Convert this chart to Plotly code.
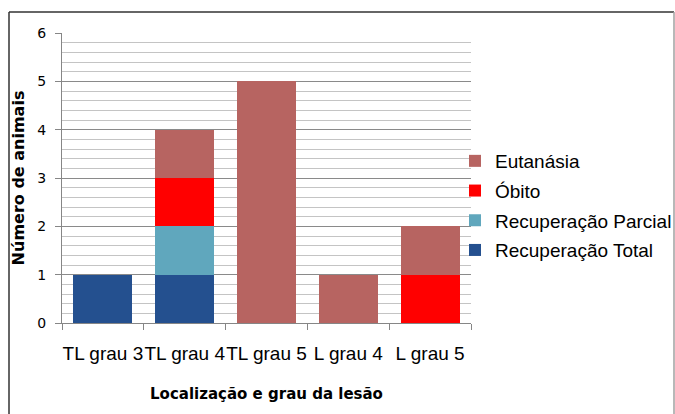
import plotly.graph_objects as go

# Outcome counts per lesion location and grade
categorias = ["TL grau 3", "TL grau 4", "TL grau 5", "L grau 4", "L grau 5"]
recuperacao_total = [1, 1, 0, 0, 0]
recuperacao_parcial = [0, 1, 0, 0, 0]
obito = [0, 1, 0, 0, 1]
eutanasia = [0, 1, 5, 1, 1]

series = [
    ("Recuperação Total", recuperacao_total, "#24508F"),
    ("Recuperação Parcial", recuperacao_parcial, "#60A7BD"),
    ("Óbito", obito, "#FF0000"),
    ("Eutanásia", eutanasia, "#B76461"),
]

W, H = 675, 414
ML, MR, MT, MB = 62, 204, 33, 91
PW, PH = W - ML - MR, H - MT - MB


def px_x(x):
    return (x - ML) / PW


def px_y(y):
    return (H - MB - y) / PH


fig = go.Figure()
for i, (nome, valores, cor) in enumerate(series):
    # legend lists the top of the stack first
    fig.add_trace(go.Bar(
        x=categorias, y=valores, name=nome, legendgroup=nome,
        legendrank=1000 - i,
        marker=dict(color=cor, line=dict(width=0)),
    ))

fig.update_layout(
    width=W, height=H,
    margin=dict(l=ML, r=MR, t=MT, b=MB, autoexpand=False),
    barmode="stack",
    bargap=0.28,
    paper_bgcolor="white",
    plot_bgcolor="white",
    showlegend=True,
    legend=dict(
        traceorder="grouped",
        tracegroupgap=2,
        x=px_x(455), y=px_y(142), xanchor="left", yanchor="top",
        font=dict(family="Liberation Sans, Arial", size=19, color="black"),
        itemwidth=30,
        bgcolor="rgba(0,0,0,0)",
    ),
    xaxis=dict(
        showline=True, linecolor="#868686", linewidth=1,
        ticks="outside", tickson="boundaries", ticklen=6, tickcolor="#868686",
        tickangle=0,
        ticklabelstandoff=13,
        tickfont=dict(family="Liberation Sans, Arial", size=19, color="black"),
        title=dict(text="<b>Localização e grau da lesão</b>",
                   font=dict(family="DejaVu Sans", size=15, color="black"),
                   standoff=25),
        showgrid=False,
        automargin=False,
    ),
    yaxis=dict(
        range=[0, 6], dtick=1,
        showline=True, linecolor="#868686", linewidth=1,
        ticks="outside", ticklen=6, tickcolor="#868686",
        ticklabelstandoff=6,
        tickfont=dict(family="DejaVu Sans", size=14, color="black"),
        showgrid=True, gridcolor="#8a8a8a", gridwidth=1,
        minor=dict(dtick=0.2, showgrid=True, gridcolor="#c4c4c4", gridwidth=1),
        zeroline=False,
        automargin=False,
        title=dict(text="<b>Número de animais</b>",
                   font=dict(family="DejaVu Sans", size=16, color="black"),
                   standoff=8),
    ),
    shapes=[
        dict(type="line", xref="paper", yref="paper",
             x0=px_x(9), x1=px_x(674), y0=px_y(12), y1=px_y(12),
             line=dict(color="#333333", width=1.5)),
        dict(type="line", xref="paper", yref="paper",
             x0=px_x(9), x1=px_x(9), y0=px_y(12), y1=px_y(420),
             line=dict(color="#333333", width=1.5)),
        dict(type="line", xref="paper", yref="paper",
             x0=px_x(674), x1=px_x(674), y0=px_y(12), y1=px_y(420),
             line=dict(color="#a0a0a0", width=1.5)),
    ],
)

fig.write_html("out.html")
